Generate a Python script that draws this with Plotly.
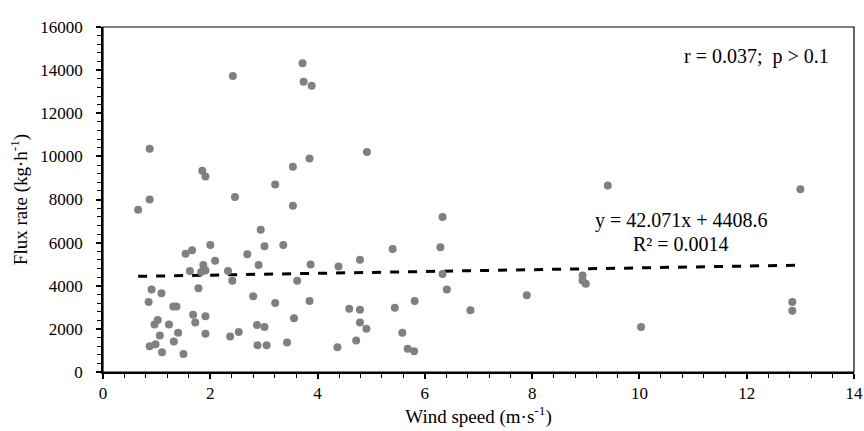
import plotly.graph_objects as go

wind_speed = [0.655, 0.87, 0.87, 2.42, 1.85, 1.91, 3.54, 3.21, 2.46, 3.72, 3.74, 3.89, 4.92, 3.85,
              3.54, 2.94, 3.36, 2.00, 3.01, 1.54, 1.66, 2.69, 2.09, 1.87, 2.90, 1.62, 1.91, 1.83,
              2.33, 2.41, 3.62, 0.905, 1.09, 0.85, 1.78, 2.80, 1.31, 1.37, 3.21, 3.56, 1.68, 1.72,
              1.91, 1.02, 0.96, 1.23, 2.87, 3.01, 1.40, 1.06, 1.91, 2.37, 2.53, 0.87, 0.98, 1.32,
              2.88, 3.05, 3.43, 1.10, 1.50, 6.33, 5.40, 6.29, 3.87, 4.39, 4.79, 6.33, 6.41, 3.85,
              5.81, 4.59, 4.79, 5.44, 6.85, 4.79, 4.91, 5.58, 4.72, 4.37, 5.68, 5.80, 9.41, 13.0,
              7.90, 8.94, 8.94, 9.00, 10.03, 12.85, 12.85]
flux_rate = [7524, 8000, 10354, 13730, 9328, 9062, 9515, 8690, 8120, 14319, 13465, 13278, 10200, 9903,
             7711, 6592, 5892, 5892, 5830, 5489, 5644, 5457, 5163, 4959, 4959, 4679, 4711, 4632,
             4679, 4229, 4229, 3825, 3653, 3251, 3886, 3513, 3032, 3032, 3203, 2487, 2659, 2301,
             2581, 2410, 2208, 2208, 2177, 2083, 1819, 1695, 1772, 1648, 1850, 1197, 1291, 1415,
             1244, 1244, 1368, 917, 840, 7183, 5706, 5784, 4991, 4897, 5209, 4540, 3825, 3296,
             3296, 2938, 2892, 2985, 2861, 2301, 2005, 1819, 1462, 1150, 1073, 964, 8644, 8473,
             3560, 4478, 4245, 4090, 2083, 3251, 2845]

slope = 42.071
intercept = 4408.6
trend_x = [min(wind_speed), max(wind_speed)]
trend_y = [slope * v + intercept for v in trend_x]

x_ticks = [0, 2, 4, 6, 8, 10, 12, 14]
x_labels = ["0", "2", "4", "6", "8", "10", "12", "14"]
y_ticks = [0, 2000, 4000, 6000, 8000, 10000, 12000, 14000, 16000]
y_labels = ["0", "2000", "4000", "6000", "8000", "10000", "12000", "14000", "16000"]

FONT = "Liberation Serif, Times New Roman, serif"

fig = go.Figure()
fig.add_trace(go.Scatter(x=trend_x, y=trend_y, mode="lines",
                         line=dict(color="black", width=3, dash="dash"),
                         hoverinfo="skip", showlegend=False))
fig.add_trace(go.Scatter(x=wind_speed, y=flux_rate, mode="markers",
                         marker=dict(color="#808080", size=8),
                         showlegend=False))

fig.add_annotation(x=12.18, y=14650, text="r = 0.037;  p > 0.1", showarrow=False,
                   font=dict(family=FONT, size=20, color="black"))
fig.add_annotation(x=10.78, y=7010, text="y = 42.071x + 4408.6", showarrow=False,
                   font=dict(family=FONT, size=20, color="black"))
fig.add_annotation(x=10.78, y=5920, text="R² = 0.0014", showarrow=False,
                   font=dict(family=FONT, size=20, color="black"))

fig.add_shape(type="rect", xref="paper", yref="paper", x0=0, y0=0, x1=1, y1=1,
              line=dict(color="black", width=1.2))

fig.update_layout(
    width=864, height=431,
    margin=dict(l=103, r=10, t=27, b=59, autoexpand=False),
    paper_bgcolor="white", plot_bgcolor="white",
    font=dict(family=FONT, size=17, color="black"),
    xaxis=dict(range=[0, 14], tickvals=x_ticks, ticktext=x_labels, ticks="outside",
               ticklen=5, tickwidth=1.5, automargin=False,
               tickcolor="black", showline=True, linecolor="black", linewidth=1.5,
               showgrid=False, zeroline=False, tickfont=dict(family=FONT, size=17),
               minor=dict(dtick=0.4, ticks="outside", ticklen=4, tickwidth=1.2, tickcolor="black"),
               title=dict(text="Wind speed (m·s<sup>-1</sup>)", standoff=8,
                          font=dict(family=FONT, size=19))),
    yaxis=dict(range=[0, 16000], tickvals=y_ticks, ticktext=y_labels, ticks="outside",
               ticklen=5, tickwidth=1.5, automargin=False, ticklabelstandoff=10,
               tickcolor="black", showline=True, linecolor="black", linewidth=1.5,
               showgrid=False, zeroline=False, tickfont=dict(family=FONT, size=17),
               minor=dict(dtick=400, ticks="outside", ticklen=4, tickwidth=1.2, tickcolor="black"),
               title=dict(text="Flux rate (kg·h<sup>-1</sup>)", standoff=8,
                          font=dict(family=FONT, size=19))),
)

fig.write_html("out.html", config={"displayModeBar": False},
               post_script="document.body.style.margin='0';document.body.style.padding='0';")
